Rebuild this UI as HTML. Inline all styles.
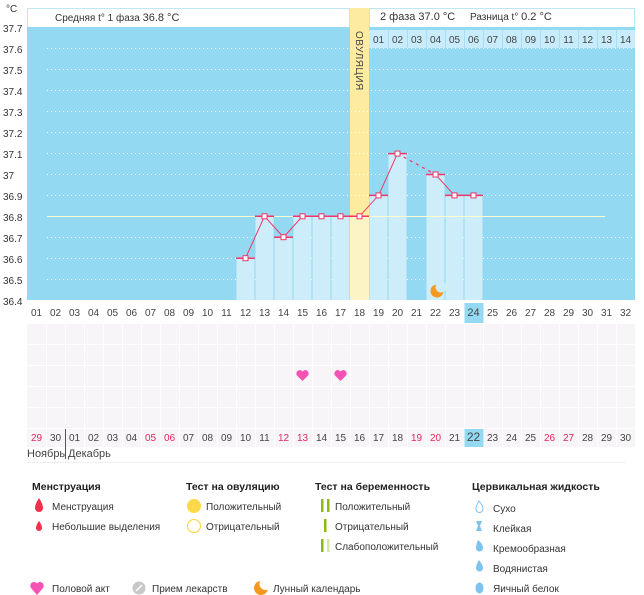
<!DOCTYPE html>
<html><head><meta charset="utf-8"><style>
html,body{margin:0;padding:0;background:#fff;width:644px;height:595px;overflow:hidden}
svg{display:block;font-family:"Liberation Sans",sans-serif}
</style></head><body>
<svg width="644" height="595" viewBox="0 0 644 595" xmlns="http://www.w3.org/2000/svg">
<!-- header -->
<rect x="27.5" y="8.5" width="322" height="19" fill="#fff" stroke="#bfe6f6"/>
<rect x="369.5" y="8.5" width="265" height="19" fill="#fff" stroke="#bfe6f6"/>
<rect x="350" y="8" width="19" height="20" fill="#fff"/>
<circle cx="359.5" cy="16.5" r="6.5" fill="#fcd94a"/>
<g font-size="10" fill="#333">
<text x="55" y="21">Средняя t° 1 фаза <tspan font-size="11">36.8 °C</tspan></text>
<text x="380" y="20" font-size="11">2 фаза 37.0 °C</text>
<text x="470" y="20"><tspan>Разница t° </tspan><tspan font-size="11">0.2 °C</tspan></text>
</g>
<!-- chart bg -->
<rect x="27" y="27" width="608" height="273" fill="#93d9f2"/>
<rect x="350" y="8" width="19" height="292" fill="#fdeca0"/>
<rect x="369" y="30" width="266" height="18" fill="#c8ecfb"/>
<g stroke="#a6dff4" stroke-width="1">
<line x1="388.5" y1="30" x2="388.5" y2="48"/><line x1="407.5" y1="30" x2="407.5" y2="48"/><line x1="426.5" y1="30" x2="426.5" y2="48"/><line x1="445.5" y1="30" x2="445.5" y2="48"/><line x1="464.5" y1="30" x2="464.5" y2="48"/><line x1="483.5" y1="30" x2="483.5" y2="48"/><line x1="502.5" y1="30" x2="502.5" y2="48"/><line x1="521.5" y1="30" x2="521.5" y2="48"/><line x1="540.5" y1="30" x2="540.5" y2="48"/><line x1="559.5" y1="30" x2="559.5" y2="48"/><line x1="578.5" y1="30" x2="578.5" y2="48"/><line x1="597.5" y1="30" x2="597.5" y2="48"/><line x1="616.5" y1="30" x2="616.5" y2="48"/>
</g>
<g font-size="10" fill="#444" text-anchor="middle">
<text x="378.5" y="43">01</text><text x="397.5" y="43">02</text><text x="416.5" y="43">03</text><text x="435.5" y="43">04</text><text x="454.5" y="43">05</text><text x="473.5" y="43">06</text><text x="492.5" y="43">07</text><text x="511.5" y="43">08</text><text x="530.5" y="43">09</text><text x="549.5" y="43">10</text><text x="568.5" y="43">11</text><text x="587.5" y="43">12</text><text x="606.5" y="43">13</text><text x="625.5" y="43">14</text>
</g>
<text transform="translate(356,31) rotate(90)" font-size="10" fill="#444" letter-spacing="0.5">ОВУЛЯЦИЯ</text>
<!-- grid lines -->
<g stroke="#fff" stroke-dasharray="1,3" stroke-width="1">
<line x1="47" y1="48.5" x2="635" y2="48.5"/><line x1="47" y1="69.5" x2="635" y2="69.5"/><line x1="47" y1="90.5" x2="635" y2="90.5"/><line x1="47" y1="111.5" x2="635" y2="111.5"/><line x1="47" y1="132.5" x2="635" y2="132.5"/><line x1="47" y1="153.5" x2="635" y2="153.5"/><line x1="47" y1="174.5" x2="635" y2="174.5"/><line x1="47" y1="195.5" x2="635" y2="195.5"/><line x1="47" y1="237.5" x2="635" y2="237.5"/><line x1="47" y1="258.5" x2="635" y2="258.5"/><line x1="47" y1="279.5" x2="635" y2="279.5"/>
</g>
<!-- bars -->
<g fill="#cdedfb">
<rect x="236.5" y="258" width="18" height="42"/>
<rect x="255.5" y="216" width="18" height="84"/>
<rect x="274.5" y="237" width="18" height="63"/>
<rect x="293.5" y="216" width="18" height="84"/>
<rect x="312.5" y="216" width="18" height="84"/>
<rect x="331.5" y="216" width="18" height="84"/>
<rect x="369.5" y="195" width="18" height="105"/>
<rect x="388.5" y="154" width="18" height="146"/>
<rect x="426.5" y="174" width="18" height="126"/>
<rect x="445.5" y="195" width="18" height="105"/>
<rect x="464.5" y="195" width="18" height="105"/>
</g>
<rect x="350" y="216" width="19" height="84" fill="#fdf4c6"/>
<line x1="47" y1="216.5" x2="605" y2="216.5" stroke="#fffbd0" stroke-width="1"/>
<!-- series -->
<g stroke="#f0366a" stroke-width="1.5" fill="none">
<line x1="236" y1="258.2" x2="255" y2="258.2"/><line x1="255" y1="216.3" x2="274" y2="216.3"/><line x1="274" y1="237.2" x2="293" y2="237.2"/><line x1="293" y1="216.3" x2="369" y2="216.3"/><line x1="369" y1="195.4" x2="388" y2="195.4"/><line x1="388" y1="153.6" x2="407" y2="153.6"/><line x1="426" y1="174.5" x2="445" y2="174.5"/><line x1="445" y1="195.4" x2="483" y2="195.4"/>
</g>
<polyline points="245.5,258.2 264.5,216.3 283.5,237.2 302.5,216.3 359.5,216.3 378.5,195.4 397.5,153.6" stroke="#f0366a" stroke-width="1" fill="none"/>
<polyline points="397.5,153.6 435.5,174.5" stroke="#f0366a" stroke-width="1.2" stroke-dasharray="3,4" fill="none"/>
<polyline points="435.5,174.5 454.5,195.4 473.5,195.4" stroke="#f0366a" stroke-width="1" fill="none"/>
<g fill="#fff" stroke="#f0366a" stroke-width="1">
<rect x="243" y="255.7" width="5" height="5"/><rect x="262" y="213.8" width="5" height="5"/><rect x="281" y="234.7" width="5" height="5"/><rect x="300" y="213.8" width="5" height="5"/><rect x="319" y="213.8" width="5" height="5"/><rect x="338" y="213.8" width="5" height="5"/><rect x="357" y="213.8" width="5" height="5"/><rect x="376" y="192.9" width="5" height="5"/><rect x="395" y="151.1" width="5" height="5"/><rect x="433" y="172" width="5" height="5"/><rect x="452" y="192.9" width="5" height="5"/><rect x="471" y="192.9" width="5" height="5"/>
</g>
<!-- moon -->
<circle cx="437" cy="291" r="6.5" fill="#f39a1e"/>
<circle cx="441" cy="287" r="5.5" fill="#cdedfb"/>
<!-- y labels -->
<g font-size="10" fill="#333">
<text x="6" y="12">°C</text>
<text x="3" y="32">37.7</text><text x="3" y="53">37.6</text><text x="3" y="74">37.5</text><text x="3" y="95">37.4</text><text x="3" y="116">37.3</text><text x="3" y="137">37.2</text><text x="3" y="158">37.1</text><text x="3" y="179">37</text><text x="3" y="200">36.9</text><text x="3" y="221">36.8</text><text x="3" y="242">36.7</text><text x="3" y="263">36.6</text><text x="3" y="284">36.5</text><text x="3" y="305">36.4</text>
</g>
<!-- lower grid -->
<rect x="464.5" y="303" width="19" height="20" fill="#93d9f2"/>
<g fill="#f7f5f7">
<rect x="27" y="324" width="608" height="20"/><rect x="27" y="345" width="608" height="20"/><rect x="27" y="366" width="608" height="20"/><rect x="27" y="387" width="608" height="20"/><rect x="27" y="408" width="608" height="20"/>
<rect x="27" y="429" width="608" height="18"/>
</g>
<g stroke="#fff" stroke-width="1">
<line x1="46.5" y1="324" x2="46.5" y2="447"/><line x1="65.5" y1="324" x2="65.5" y2="428"/><line x1="84.5" y1="324" x2="84.5" y2="447"/><line x1="103.5" y1="324" x2="103.5" y2="447"/><line x1="122.5" y1="324" x2="122.5" y2="447"/><line x1="141.5" y1="324" x2="141.5" y2="447"/><line x1="160.5" y1="324" x2="160.5" y2="447"/><line x1="179.5" y1="324" x2="179.5" y2="447"/><line x1="198.5" y1="324" x2="198.5" y2="447"/><line x1="217.5" y1="324" x2="217.5" y2="447"/><line x1="236.5" y1="324" x2="236.5" y2="447"/><line x1="255.5" y1="324" x2="255.5" y2="447"/><line x1="274.5" y1="324" x2="274.5" y2="447"/><line x1="293.5" y1="324" x2="293.5" y2="447"/><line x1="312.5" y1="324" x2="312.5" y2="447"/><line x1="331.5" y1="324" x2="331.5" y2="447"/><line x1="350.5" y1="324" x2="350.5" y2="447"/><line x1="369.5" y1="324" x2="369.5" y2="447"/><line x1="388.5" y1="324" x2="388.5" y2="447"/><line x1="407.5" y1="324" x2="407.5" y2="447"/><line x1="426.5" y1="324" x2="426.5" y2="447"/><line x1="445.5" y1="324" x2="445.5" y2="447"/><line x1="464.5" y1="324" x2="464.5" y2="447"/><line x1="483.5" y1="324" x2="483.5" y2="447"/><line x1="502.5" y1="324" x2="502.5" y2="447"/><line x1="521.5" y1="324" x2="521.5" y2="447"/><line x1="540.5" y1="324" x2="540.5" y2="447"/><line x1="559.5" y1="324" x2="559.5" y2="447"/><line x1="578.5" y1="324" x2="578.5" y2="447"/><line x1="597.5" y1="324" x2="597.5" y2="447"/><line x1="616.5" y1="324" x2="616.5" y2="447"/>
</g>
<rect x="464.5" y="429" width="19" height="18" fill="#93d9f2"/>
<line x1="65.5" y1="429" x2="65.5" y2="459" stroke="#555"/>
<line x1="27" y1="462.5" x2="625" y2="462.5" stroke="#eee"/>
<g font-size="10" fill="#444" text-anchor="middle">
<text x="36.5" y="316">01</text><text x="55.5" y="316">02</text><text x="74.5" y="316">03</text><text x="93.5" y="316">04</text><text x="112.5" y="316">05</text><text x="131.5" y="316">06</text><text x="150.5" y="316">07</text><text x="169.5" y="316">08</text><text x="188.5" y="316">09</text><text x="207.5" y="316">10</text><text x="226.5" y="316">11</text><text x="245.5" y="316">12</text><text x="264.5" y="316">13</text><text x="283.5" y="316">14</text><text x="302.5" y="316">15</text><text x="321.5" y="316">16</text><text x="340.5" y="316">17</text><text x="359.5" y="316">18</text><text x="378.5" y="316">19</text><text x="397.5" y="316">20</text><text x="416.5" y="316">21</text><text x="435.5" y="316">22</text><text x="454.5" y="316">23</text><text x="473.5" y="316" font-size="11">24</text><text x="492.5" y="316">25</text><text x="511.5" y="316">26</text><text x="530.5" y="316">27</text><text x="549.5" y="316">28</text><text x="568.5" y="316">29</text><text x="587.5" y="316">30</text><text x="606.5" y="316">31</text><text x="625.5" y="316">32</text>
</g>
<g font-size="10" fill="#444" text-anchor="middle">
<text x="36.5" y="441" fill="#e8265e">29</text><text x="55.5" y="441">30</text><text x="74.5" y="441">01</text><text x="93.5" y="441">02</text><text x="112.5" y="441">03</text><text x="131.5" y="441">04</text><text x="150.5" y="441" fill="#e8265e">05</text><text x="169.5" y="441" fill="#e8265e">06</text><text x="188.5" y="441">07</text><text x="207.5" y="441">08</text><text x="226.5" y="441">09</text><text x="245.5" y="441">10</text><text x="264.5" y="441">11</text><text x="283.5" y="441" fill="#e8265e">12</text><text x="302.5" y="441" fill="#e8265e">13</text><text x="321.5" y="441">14</text><text x="340.5" y="441">15</text><text x="359.5" y="441">16</text><text x="378.5" y="441">17</text><text x="397.5" y="441">18</text><text x="416.5" y="441" fill="#e8265e">19</text><text x="435.5" y="441" fill="#e8265e">20</text><text x="454.5" y="441">21</text><text x="473.5" y="441" font-size="12">22</text><text x="492.5" y="441">23</text><text x="511.5" y="441">24</text><text x="530.5" y="441">25</text><text x="549.5" y="441" fill="#e8265e">26</text><text x="568.5" y="441" fill="#e8265e">27</text><text x="587.5" y="441">28</text><text x="606.5" y="441">29</text><text x="625.5" y="441">30</text>
</g>
<g font-size="11" fill="#444">
<text x="27" y="457">Ноябрь</text><text x="68" y="457">Декабрь</text>
</g>
<!-- hearts -->
<g fill="#f552b4">
<path d="M302.5,381 L297,375.5 A3,3 0 0 1 302.5,371.5 A3,3 0 0 1 308,375.5 Z"/>
<path d="M340.5,381 L335,375.5 A3,3 0 0 1 340.5,371.5 A3,3 0 0 1 346,375.5 Z"/>
</g>
<!-- legend -->
<g font-size="10.5" fill="#222" font-weight="bold">
<text x="32" y="490">Менструация</text><text x="186" y="490">Тест на овуляцию</text><text x="315" y="490">Тест на беременность</text><text x="472" y="490">Цервикальная жидкость</text>
</g>
<g font-size="10" fill="#333">
<text x="52" y="510">Менструация</text><text x="52" y="530">Небольшие выделения</text>
<text x="206" y="510">Положительный</text><text x="206" y="530">Отрицательный</text>
<text x="335" y="510">Положительный</text><text x="335" y="530">Отрицательный</text><text x="335" y="550">Слабоположительный</text>
<text x="493" y="512">Сухо</text><text x="493" y="532">Клейкая</text><text x="493" y="552">Кремообразная</text><text x="493" y="572">Водянистая</text><text x="493" y="592">Яичный белок</text>
<text x="52" y="592">Половой акт</text><text x="152" y="592">Прием лекарств</text><text x="273" y="592">Лунный календарь</text>
</g>
<path d="M39,498 Q35,504 35,508 A4,4 0 0 0 43,508 Q43,504 39,498 Z" fill="#f0314c"/>
<path d="M39,521 Q36,525 36,528 A3,3 0 0 0 42,528 Q42,525 39,521 Z" fill="#f0314c"/>
<circle cx="194" cy="506" r="7" fill="#fcd94a"/>
<circle cx="194" cy="526" r="6.5" fill="#fff" stroke="#fcd94a" stroke-width="1.2"/>
<g fill="#8dba12"><rect x="321" y="499" width="2.5" height="13"/><rect x="327" y="499" width="2.5" height="13"/><rect x="324" y="519" width="2.5" height="13"/><rect x="321" y="539" width="2.5" height="13"/></g>
<rect x="327" y="539" width="2.5" height="13" fill="#d6e7a4"/>
<path d="M479,501 Q476,506 476,509 A3.5,3.5 0 0 0 483,509 Q483,506 479,501 Z" fill="#fff" stroke="#7cc3ef"/>
<path d="M476,521 L482,521 L480,526 L482,531 L476,531 L478,526 Z" fill="#7cc3ef"/>
<path d="M478,540 Q476,545 476,548 A3.5,3.5 0 0 0 483,548 Q483,544 478,540 Z" fill="#7cc3ef"/>
<path d="M479,560 Q476,565 476,568 A3.5,3.5 0 0 0 483,568 Q483,565 479,560 Z" fill="#7cc3ef"/>
<ellipse cx="479.5" cy="588" rx="4" ry="5.5" fill="#7cc3ef"/>
<path d="M37,595 L31,588 A3.3,3.3 0 0 1 37,583.5 A3.3,3.3 0 0 1 43,588 Z" fill="#f552b4"/>
<circle cx="139" cy="588" r="6.5" fill="#c8c8c8"/><line x1="136" y1="591" x2="142" y2="585" stroke="#fff" stroke-width="1.5"/>
<circle cx="261" cy="588" r="7" fill="#f39a1e"/>
<circle cx="265.5" cy="584" r="6" fill="#fff"/>
</svg>
</body></html>
